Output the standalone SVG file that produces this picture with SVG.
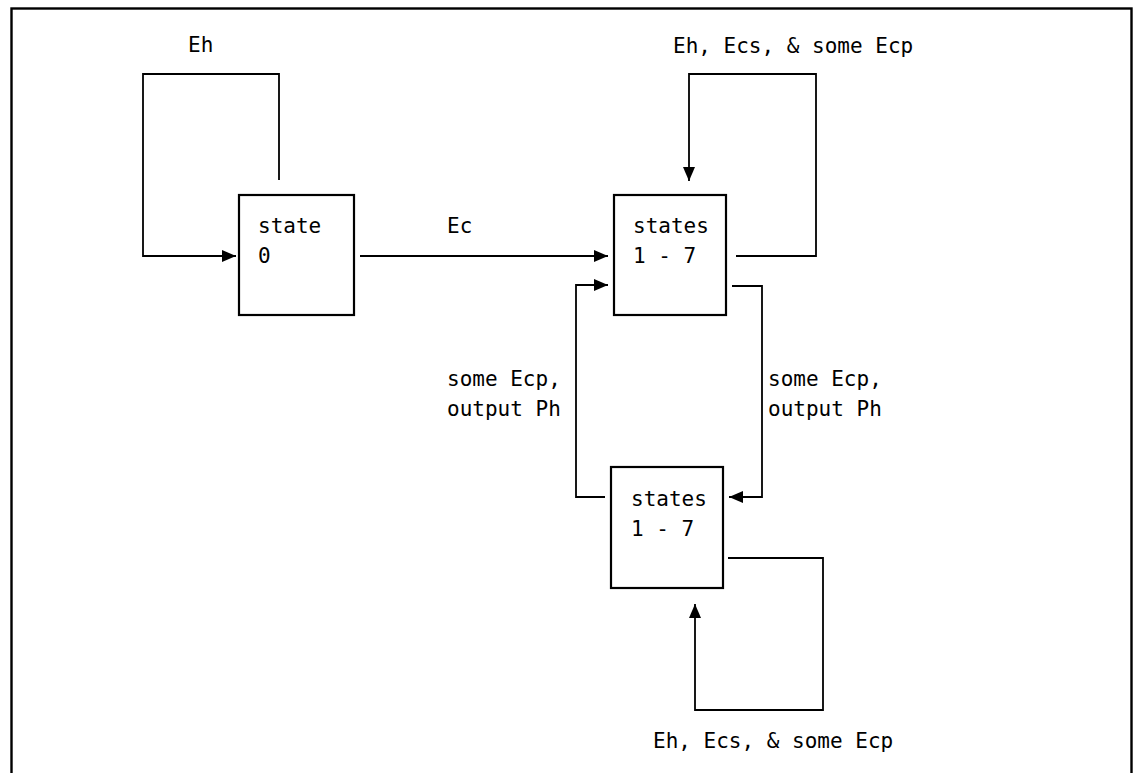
<svg xmlns="http://www.w3.org/2000/svg" width="1134" height="773" viewBox="0 0 1134 773">
<defs>
<marker id="ah" viewBox="0 0 14 12" refX="14" refY="6" markerWidth="14" markerHeight="12" markerUnits="userSpaceOnUse" orient="auto">
<path d="M0,0 L14,6 L0,12 z" fill="#000"/>
</marker>
</defs>
<style>
text{font-family:"DejaVu Sans Mono","Liberation Mono",monospace;font-size:21px;fill:#000}
.box{fill:#fff;stroke:#000;stroke-width:2.2}
.c{fill:none;stroke:#000;stroke-width:1.8}
</style>
<rect x="0" y="0" width="1134" height="773" fill="#fff"/>
<rect x="11.5" y="8.5" width="1120" height="820" fill="none" stroke="#000" stroke-width="2.4"/>
<g id="connectors">
<polyline class="c" points="279,180 279,74 143,74 143,256 236,256" marker-end="url(#ah)"/>
<line class="c" x1="360" y1="256" x2="608" y2="256" marker-end="url(#ah)"/>
<polyline class="c" points="736,256 816,256 816,74 689,74 689,181" marker-end="url(#ah)"/>
<polyline class="c" points="605,497 576,497 576,285 608,285" marker-end="url(#ah)"/>
<polyline class="c" points="732,286 762,286 762,497 729,497" marker-end="url(#ah)"/>
<polyline class="c" points="728,558 823,558 823,710 695,710 695,604" marker-end="url(#ah)"/>
<text x="188" y="52">Eh</text>
<text x="447" y="233">Ec</text>
<text x="673" y="53">Eh, Ecs, &amp; some Ecp</text>
<text x="447" y="386">some Ecp,</text>
<text x="447" y="416">output Ph</text>
<text x="768" y="386">some Ecp,</text>
<text x="768" y="416">output Ph</text>
<text x="653" y="748">Eh, Ecs, &amp; some Ecp</text>
</g>
<g id="state0">
<rect class="box" x="239" y="195" width="115" height="120"/>
<text x="258" y="233">state</text>
<text x="258" y="263">0</text>
</g>
<g id="states_upper">
<rect class="box" x="614" y="195" width="112" height="120"/>
<text x="633" y="233">states</text>
<text x="633" y="263">1 - 7</text>
</g>
<g id="states_lower">
<rect class="box" x="611" y="467" width="112" height="121"/>
<text x="631" y="506">states</text>
<text x="631" y="536">1 - 7</text>
</g>
</svg>
